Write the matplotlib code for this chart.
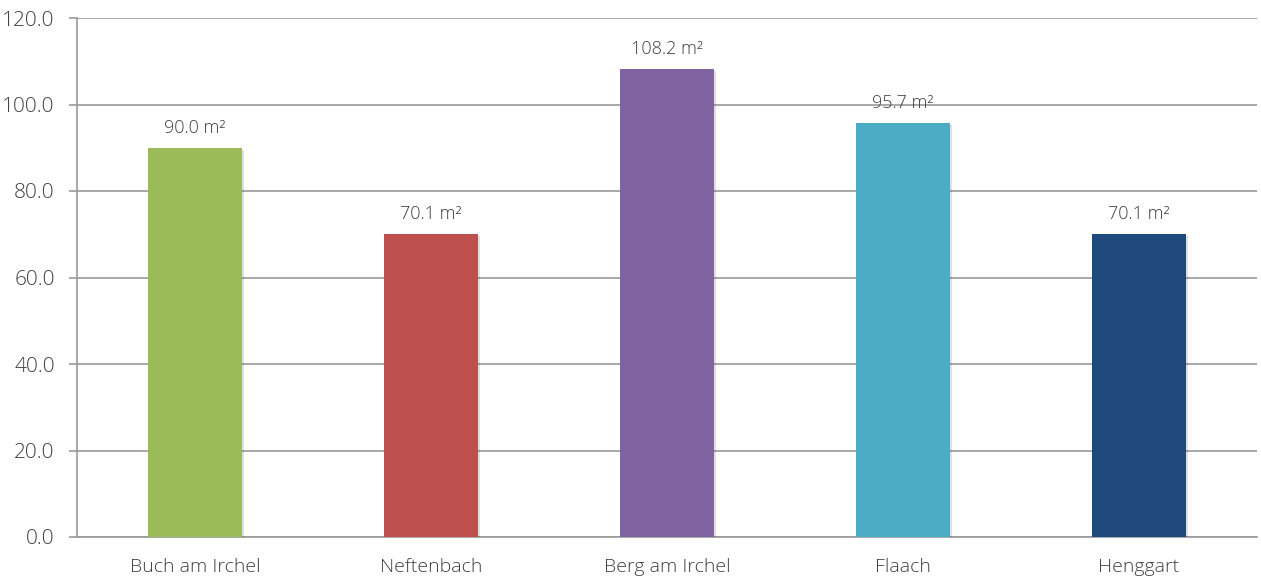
import matplotlib
matplotlib.use("Agg")
import matplotlib.pyplot as plt
import matplotlib.patheffects as pe

categories = ["Buch am Irchel", "Neftenbach", "Berg am Irchel", "Flaach", "Henggart"]
values = [90.0, 70.1, 108.2, 95.7, 70.1]
colors = ["#9BBB59", "#C0504D", "#8064A2", "#4BACC6", "#1F497D"]
yticks = [0, 20, 40, 60, 80, 100, 120]

plt.rcParams['font.family'] = ['Open Sans', 'DejaVu Sans']

fig = plt.figure(figsize=(12.61, 5.77), dpi=100)
ax = fig.add_axes([77/1261, 1-537/577, 1180/1261, 519/577])

x = list(range(len(categories)))
bars = ax.bar(x, values, width=0.4, color=colors, zorder=3,
              path_effects=[pe.SimplePatchShadow(offset=(1.5, -1.5), shadow_rgbFace='#000000', alpha=0.12), pe.Normal()])

for xi, v in zip(x, values):
    ax.annotate(f"{v:.1f} m²", (xi, v), xytext=(0, 8), textcoords='offset points',
                ha='center', va='bottom', fontsize=13, color='#404040', fontweight='light')

ax.set_xlim(-0.5, len(categories) - 0.5)
ax.set_ylim(0, 120)
ax.set_yticks(yticks)
ax.set_yticklabels([f"{t:.1f}" for t in yticks], fontweight='light')
ax.set_xticks(x)
ax.set_xticklabels(categories, fontweight='light')
ax.yaxis.grid(True, color='#9a9a9a', linewidth=1.2, zorder=0)
ax.set_axisbelow(True)
for s in ['top', 'right']:
    ax.spines[s].set_visible(False)
for s in ['left', 'bottom']:
    ax.spines[s].set_color('#9a9a9a')
    ax.spines[s].set_linewidth(1.2)
ax.tick_params(axis='y', length=6, width=1.2, color='#9a9a9a', labelsize=15, labelcolor='#404040', pad=10)
ax.tick_params(axis='x', length=0, labelsize=14, labelcolor='#404040', pad=15)

fig.savefig("out.png", dpi=100)
